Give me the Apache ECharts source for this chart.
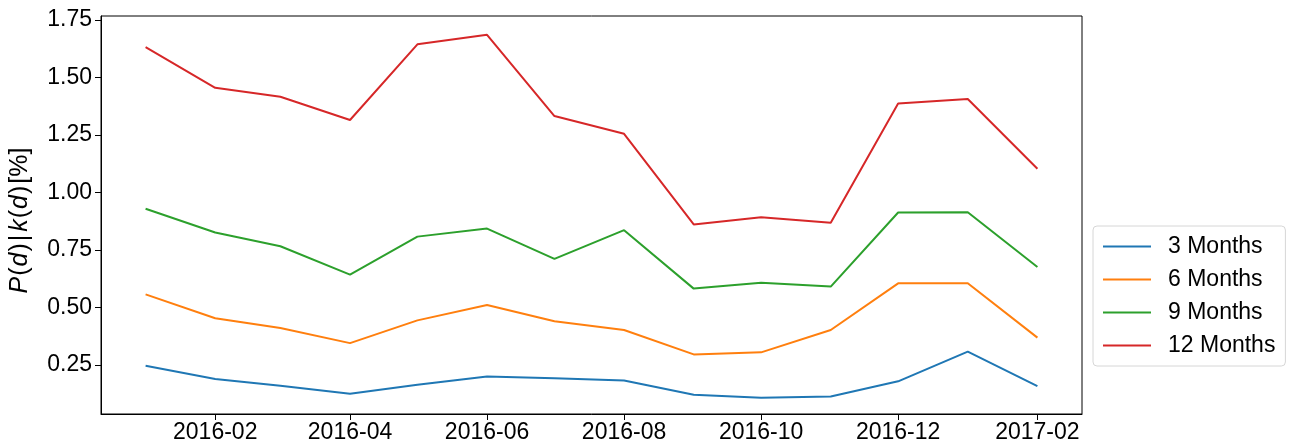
<!DOCTYPE html>
<html>
<head>
<meta charset="utf-8">
<script src="https://cdn.jsdelivr.net/npm/echarts@6/dist/echarts.min.js"></script>
<style>
  html, body { margin: 0; padding: 0; background: #fff; }
  #main { width: 1293px; height: 446px; }
</style>
</head>
<body>
<div id="main"></div>
<script>
// months shown on the x axis (one point per month)
var months = ['2016-01', '2016-02', '2016-03', '2016-04', '2016-05', '2016-06', '2016-07',
              '2016-08', '2016-09', '2016-10', '2016-11', '2016-12', '2017-01', '2017-02'];
var tickMonths = ['2016-02', '2016-04', '2016-06', '2016-08', '2016-10', '2016-12', '2017-02'];
var yTicks = [0.25, 0.5, 0.75, 1.0, 1.25, 1.5, 1.75];

var seriesNames = ['3 Months', '6 Months', '9 Months', '12 Months'];
var m3  = [0.247, 0.189, 0.160, 0.125, 0.164, 0.200, 0.192, 0.183, 0.121, 0.108, 0.113, 0.179, 0.308, 0.158];
var m6  = [0.557, 0.453, 0.411, 0.345, 0.444, 0.511, 0.440, 0.402, 0.296, 0.305, 0.402, 0.605, 0.605, 0.369];
var m9  = [0.929, 0.826, 0.766, 0.643, 0.808, 0.843, 0.711, 0.836, 0.582, 0.608, 0.591, 0.913, 0.914, 0.676];
var m12 = [1.632, 1.455, 1.416, 1.315, 1.644, 1.685, 1.332, 1.255, 0.861, 0.892, 0.868, 1.387, 1.406, 1.103];

var colors = ['#1f77b4', '#ff7f0e', '#2ca02c', '#d62728'];

// day number of the first of a month, as used on the x axis
function toDay(s) {
    var p = s.split('-');
    return Date.UTC(+p[0], +p[1] - 1, 1) / 86400000;
}
function dayLabel(v) {
    var d = new Date(Math.round(v) * 86400000);
    var m = d.getUTCMonth() + 1;
    return d.getUTCFullYear() + '-' + (m < 10 ? '0' + m : m);
}

var xMin = toDay(months[0]) - 19.85;
var xMax = toDay(months[months.length - 1]) + 19.85;

var allData = [m3, m6, m9, m12];
var series = allData.map(function (vals, i) {
    return {
        name: seriesNames[i],
        type: 'line',
        symbol: 'none',
        showSymbol: false,
        lineStyle: { width: 2, color: colors[i] },
        itemStyle: { color: colors[i] },
        data: vals.map(function (v, j) { return [toDay(months[j]), v]; })
    };
});

var myChart = echarts.init(document.getElementById('main'));
var font = 'Liberation Sans, Arial, sans-serif';

var option = {
    animation: false,
    textStyle: { fontFamily: font },
    grid: {
        left: 100,
        right: 211,
        top: 16,
        bottom: 32,
        show: true,
        borderColor: '#000',
        borderWidth: 1,
        containLabel: false
    },
    legend: {
        orient: 'vertical',
        left: 1093,
        top: 226,
        data: seriesNames,
        icon: 'rect',
        itemWidth: 48,
        itemHeight: 2,
        itemGap: 10,
        padding: [9, 10, 9, 10],
        backgroundColor: '#fff',
        borderColor: '#d6d6d6',
        borderWidth: 1,
        borderRadius: 4,
        textStyle: { fontSize: 23, color: '#000', fontFamily: font, padding: [0, 0, 0, 12] }
    },
    xAxis: {
        type: 'value',
        min: xMin,
        max: xMax,
        splitLine: { show: false },
        axisLine: { show: true, lineStyle: { color: '#000', width: 1 } },
        axisTick: {
            show: true, inside: false, length: 6,
            lineStyle: { color: '#000' },
            customValues: tickMonths.map(toDay)
        },
        axisLabel: {
            fontSize: 23, color: '#000', fontFamily: font, margin: 7,
            customValues: tickMonths.map(toDay),
            formatter: dayLabel
        }
    },
    yAxis: {
        type: 'value',
        min: 0.037,
        max: 1.767,
        splitLine: { show: false },
        axisLine: { show: true, lineStyle: { color: '#000', width: 1 } },
        axisTick: {
            show: true, inside: false, length: 6,
            lineStyle: { color: '#000' },
            customValues: yTicks
        },
        axisLabel: {
            fontSize: 23, color: '#000', fontFamily: font, margin: 9,
            customValues: yTicks,
            formatter: function (v) { return v.toFixed(2); }
        },
        name: '{i|P}{n|(}{i|d}{n|)}{b||}{i|k}{n|(}{i|d}{n|)}{e|[%]}',
        nameLocation: 'middle',
        nameRotate: 90,
        nameGap: 68,
        nameTextStyle: {
            rich: {
                i: { fontSize: 25, fontStyle: 'italic', color: '#000', fontFamily: font, padding: [0, 1, 0, 1] },
                n: { fontSize: 25, color: '#000', fontFamily: font },
                b: { fontSize: 25, color: '#000', fontFamily: font, padding: [0, 2, 0, 2] },
                e: { fontSize: 25, color: '#000', fontFamily: font, padding: [0, 12, 0, 2] }
            }
        }
    },
    series: series
};

myChart.setOption(option);
window.addEventListener('resize', function () {
    myChart.resize();
});
</script>
</body>
</html>
